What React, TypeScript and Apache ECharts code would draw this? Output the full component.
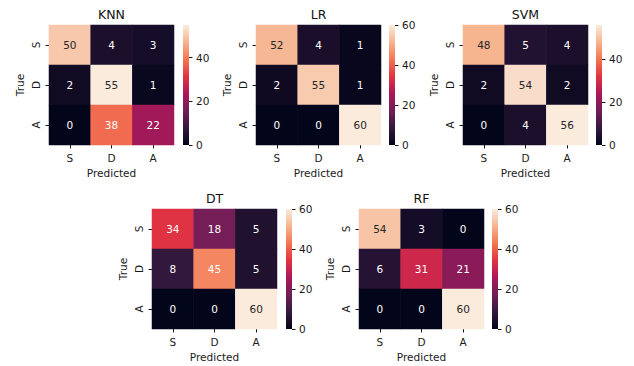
import React, { useEffect, useRef } from "react";
import * as echarts from "echarts";

const categories = ["S", "D", "A"];
const models = ["KNN", "LR", "SVM", "DT", "RF"];
const knnMatrix = [[50, 4, 3], [2, 55, 1], [0, 38, 22]];
const lrMatrix = [[52, 4, 1], [2, 55, 1], [0, 0, 60]];
const svmMatrix = [[48, 5, 4], [2, 54, 2], [0, 4, 56]];
const dtMatrix = [[34, 18, 5], [8, 45, 5], [0, 0, 60]];
const rfMatrix = [[54, 3, 0], [6, 31, 21], [0, 0, 60]];
const matrices = [knnMatrix, lrMatrix, svmMatrix, dtMatrix, rfMatrix];
const colorbarTicks = [0, 20, 40, 60];

const ROCKET = ["#03051a", "#35193e", "#701f57", "#ad1759", "#e13342", "#f37651", "#f6b48f", "#faebdd"];

// layout positions (left of heatmap, top, colorbar left)
const LAYOUT = [
  { left: 49, top: 25, cb: 183 },
  { left: 256, top: 25, cb: 389 },
  { left: 463, top: 25, cb: 596 },
  { left: 152, top: 209, cb: 286 },
  { left: 359, top: 209, cb: 492 },
];
const W = 125;
const H = 120;
const CBW = 6;
const FONT = "DejaVu Sans";
const TXT = "#1a1a1a";
const FS = 10.5;

export default function App() {
  const ref = useRef<HTMLDivElement>(null);
  useEffect(() => {
    if (!ref.current) return;
    const chart = echarts.init(ref.current, undefined, { renderer: "svg" });
    const grids: any[] = [];
    const xAxes: any[] = [];
    const yAxes: any[] = [];
    const heatSeries: any[] = [];
    const barSeries: any[] = [];
    const visualMaps: any[] = [];
    const titles: any[] = [];

    matrices.forEach((m, i) => {
      const L = LAYOUT[i];
      const vmax = Math.max(...m.flat());
      grids.push({ left: L.left, top: L.top, width: W, height: H });
      grids.push({ left: L.cb, top: L.top, width: CBW, height: H });
      xAxes.push({
        gridIndex: 2 * i,
        type: "category",
        data: categories,
        axisLine: { show: false },
        axisTick: { show: true, alignWithLabel: true, length: 3.5, lineStyle: { color: TXT } },
        axisLabel: { fontSize: FS, color: TXT, margin: 7, fontFamily: FONT },
        splitLine: { show: false },
        name: "Predicted",
        nameLocation: "middle",
        nameGap: 22,
        nameTextStyle: { fontSize: FS, color: TXT, fontFamily: FONT },
      });
      xAxes.push({ gridIndex: 2 * i + 1, type: "category", data: [""], show: false });
      yAxes.push({
        gridIndex: 2 * i,
        type: "category",
        data: categories,
        inverse: true,
        axisLine: { show: false },
        axisTick: { show: true, alignWithLabel: true, length: 3.5, lineStyle: { color: TXT } },
        axisLabel: { fontSize: FS, color: TXT, margin: 8, rotate: 90, fontFamily: FONT },
        splitLine: { show: false },
        name: "True",
        nameLocation: "middle",
        nameGap: 24,
        nameRotate: 90,
        nameTextStyle: { fontSize: FS, color: TXT, fontFamily: FONT },
      });
      const ticks = colorbarTicks.filter((t) => t <= vmax);
      yAxes.push({
        gridIndex: 2 * i + 1,
        type: "value",
        min: 0,
        max: vmax,
        position: "right",
        axisLine: { show: false },
        splitLine: { show: false },
        axisTick: { show: true, length: 3.5, lineStyle: { color: TXT }, customValues: ticks },
        axisLabel: { fontSize: FS, color: TXT, margin: 7, fontFamily: FONT, customValues: ticks },
      });
      const data: any[] = [];
      m.forEach((row, r) =>
        row.forEach((v, c) => {
          data.push({
            value: [c, r, v],
            label: { color: v / vmax > 0.8 ? "#262626" : "#ffffff" },
          });
        })
      );
      heatSeries.push({
        type: "heatmap",
        xAxisIndex: 2 * i,
        yAxisIndex: 2 * i,
        data,
        label: { show: true, fontSize: FS, fontFamily: FONT },
        emphasis: { disabled: true },
      });
      barSeries.push({
        type: "bar",
        xAxisIndex: 2 * i + 1,
        yAxisIndex: 2 * i + 1,
        data: [vmax],
        barWidth: "100%",
        silent: true,
        itemStyle: {
          color: new echarts.graphic.LinearGradient(
            0, 1, 0, 0,
            ROCKET.map((c, k) => ({ offset: k / (ROCKET.length - 1), color: c }))
          ),
        },
      });
      visualMaps.push({
        type: "continuous",
        show: false,
        seriesIndex: i,
        min: 0,
        max: vmax,
        inRange: { color: ROCKET },
      });
      titles.push({
        type: "text",
        x: L.left + W / 2,
        y: L.top - 11,
        silent: true,
        style: {
          text: models[i],
          font: `normal 400 12.5px "${FONT}"`,
          fill: "#111",
          align: "center",
          verticalAlign: "middle",
        },
      });
    });

    chart.setOption({
      animation: false,
      backgroundColor: "#ffffff",
      textStyle: { fontFamily: FONT },
      graphic: titles,
      grid: grids,
      xAxis: xAxes,
      yAxis: yAxes,
      visualMap: visualMaps,
      series: [...heatSeries, ...barSeries],
    });
    return () => chart.dispose();
  }, []);
  return (
    <div
      ref={ref}
      style={{ position: "fixed", left: 0, top: 0, width: 634, height: 366 }}
    />
  );
}
